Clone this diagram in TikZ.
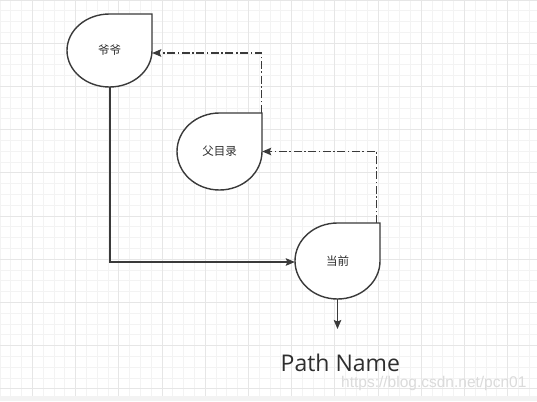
\documentclass[tikz,border=0pt]{standalone}
\usepackage{fontspec}
\setmainfont{Open Sans}
\newfontfamily\cjk{Noto Sans CJK SC}
\newfontfamily\wmfont{Liberation Sans}
\usetikzlibrary{arrows.meta}
\definecolor{minorgrid}{HTML}{F3F3F3}
\definecolor{majorgrid}{HTML}{E6E6E6}
\definecolor{band}{HTML}{F3F3F3}
\definecolor{ink}{HTML}{3A3A3A}
\definecolor{txt}{HTML}{2E2E2E}
\tikzset{
  dropnode/.style={inner sep=0pt, minimum width=85pt, font=\cjk\fontsize{11.5}{13}\selectfont, text=txt},
  dropline/.style={draw=ink, line width=1.4pt, fill=white},
  link/.style={draw=ink, line width=1.4pt, -{Stealth[length=9pt,width=7.5pt,inset=1.5pt]}},
  dashdot/.style={dash pattern=on 8pt off 2.5pt on 1.6pt off 2.5pt},
}
\begin{document}
\begin{tikzpicture}[x=1pt,y=-1pt]
\useasboundingbox (0,0) rectangle (537,401);
% background grid
\fill[white] (0,0) rectangle (537,401);
\foreach \k in {0,...,49} {\draw[minorgrid, line width=0.8pt] ({10.8*\k},0) -- ({10.8*\k},396);}
\foreach \k in {0,...,36} {\draw[minorgrid, line width=0.8pt] (0,{10.8*\k}) -- (537,{10.8*\k});}
\foreach \k in {0,...,12} {\draw[majorgrid, line width=0.8pt] ({32.4+43.2*\k},0) -- ({32.4+43.2*\k},396);}
\foreach \k in {0,...,9} {\draw[majorgrid, line width=0.8pt] (0,{43.2*\k}) -- (537,{43.2*\k});}
\fill[band] (0,396) rectangle (537,401);

% shapes
\draw[dropline] (109.5,14) -- (152,14) -- (152,50.5) arc[start angle=0,end angle=270,x radius=42.5,y radius=36.5] -- cycle;
\draw[dropline] (219.5,113) -- (262,113) -- (262,151.5) arc[start angle=0,end angle=270,x radius=42.5,y radius=38.5] -- cycle;
\draw[dropline] (337.5,223) -- (380,223) -- (380,261) arc[start angle=0,end angle=270,x radius=42.5,y radius=38] -- cycle;

\node[dropnode, minimum height=73pt] (s1) at (109.5,50.5) {爷爷};
\node[dropnode, minimum height=77pt] (s2) at (219.5,151.5) {父目录};
\node[dropnode, minimum height=76pt] (s3) at (337.5,261) {当前};

\coordinate (out) at (337.5,329);
\node[anchor=base west, inner sep=0pt, text=txt, font=\fontsize{23}{26}\selectfont] (pn) at (280.5,371) {Path Name};
\node[anchor=west, inner sep=0pt, text=gray!28, font=\wmfont\fontsize{15.5}{17}\selectfont] (wm) at (341,383) {https://blog.csdn.net/pcn01};

% connectors
\draw[link] ([xshift=0.5pt]s1.south) |- ([yshift=-1pt]s3.west);
\draw[link, dashdot] ([xshift=-4pt]s3.north east) |- (s2.east);
\draw[link, dashdot] ([xshift=-1pt]s2.north east) |- ([yshift=-2.5pt]s1.east);
\draw[link] (s3.south) -- (out);
\end{tikzpicture}
\end{document}
